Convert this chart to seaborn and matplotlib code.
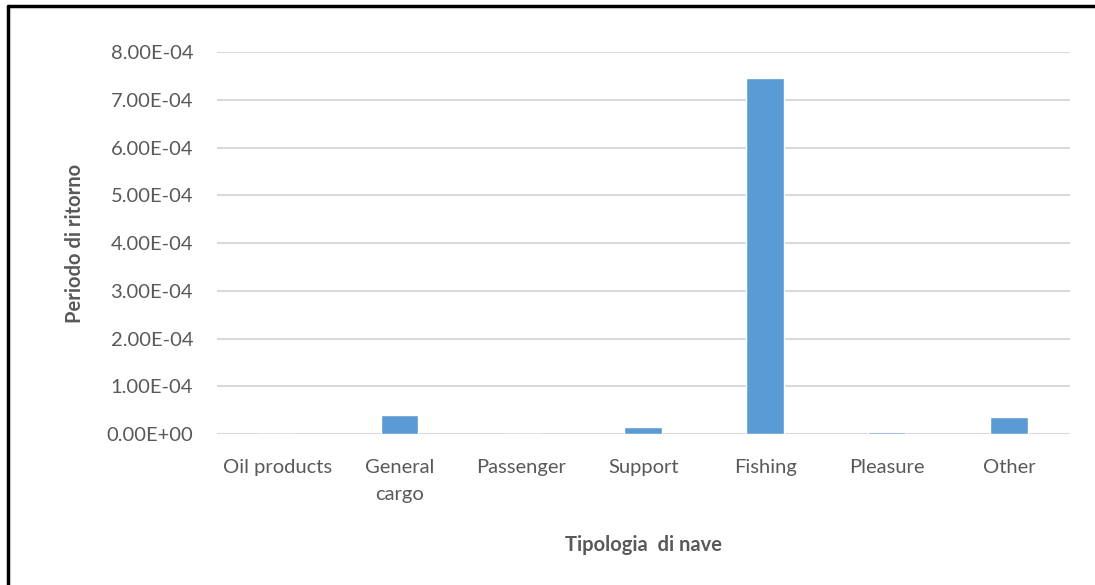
import matplotlib
matplotlib.use("Agg")
import matplotlib.pyplot as plt
from matplotlib.lines import Line2D
import seaborn as sns
import pandas as pd

categories = ["Oil products", "General\ncargo", "Passenger", "Support",
              "Fishing", "Pleasure", "Other"]
values = [0.0, 3.9e-05, 0.0, 1.4e-05, 7.45e-04, 5.0e-06, 3.5e-05]
y_ticks = [0.0, 1e-4, 2e-4, 3e-4, 4e-4, 5e-4, 6e-4, 7e-4, 8e-4]
y_tick_labels = ["0.00E+00", "1.00E-04", "2.00E-04", "3.00E-04", "4.00E-04",
                 "5.00E-04", "6.00E-04", "7.00E-04", "8.00E-04"]

sns.set_theme(style="white")
plt.rcParams["font.family"] = ["Lato", "DejaVu Sans"]

text_color = "#595959"
bar_color = "#5B9BD5"
grid_color = "#D9D9D9"
fs = 14.5

df = pd.DataFrame({"tipo": categories, "valore": values})

fig = plt.figure(figsize=(10.95, 5.85), dpi=100)
ax = fig.add_axes([0.198, 0.258, 0.779, 0.653])

sns.barplot(data=df, x="tipo", y="valore", color=bar_color, width=0.31,
            saturation=1, ax=ax, zorder=3)

ax.set_ylim(0, 8e-4)
ax.set_xlim(-0.5, len(categories) - 0.5)
ax.set_yticks(y_ticks)
ax.set_yticklabels(y_tick_labels)
ax.yaxis.grid(True, color=grid_color, linewidth=1.5, zorder=0)
ax.set_axisbelow(True)
for s in ax.spines.values():
    s.set_visible(False)
ax.axhline(0, color=grid_color, linewidth=1.8, zorder=2)

ax.tick_params(axis="y", length=0, pad=17, labelsize=fs, labelcolor=text_color)
ax.tick_params(axis="x", length=0, pad=18, labelsize=fs, labelcolor=text_color)
for lbl in ax.get_xticklabels():
    lbl.set_linespacing(1.7)

ax.set_ylabel("Periodo di ritorno", fontsize=fs, fontweight="bold",
              color=text_color)
ax.set_xlabel("Tipologia  di nave", fontsize=fs, fontweight="bold",
              color=text_color)
ax.yaxis.set_label_coords(-0.155, 0.5)
ax.xaxis.set_label_coords(0.5, -0.265)

# black frame on the top and left edges of the figure
fig.add_artist(Line2D([0.0075, 0.0075], [0.0, 0.99], transform=fig.transFigure,
                      color="black", linewidth=2.5))
fig.add_artist(Line2D([0.0075, 1.0], [0.99, 0.99], transform=fig.transFigure,
                      color="black", linewidth=2.5))

fig.savefig("out.png", dpi=100, facecolor="white")
